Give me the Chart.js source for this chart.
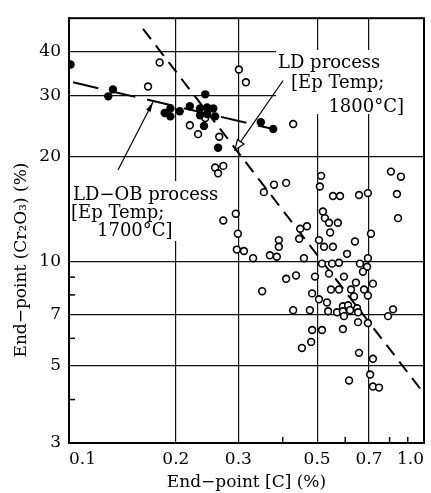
<!DOCTYPE html>
<html>
<head>
<meta charset="utf-8">
<script src="https://cdn.jsdelivr.net/npm/chart.js@4.4.1/dist/chart.umd.min.js"></script>
<style>
  html, body { margin: 0; padding: 0; background: #fff; }
</style>
</head>
<body>
<canvas id="grafico" width="431" height="493"></canvas>
<script>
// LD-OB process (filled circles)
const ldobC  = [0.101, 0.133, 0.129, 0.186, 0.193, 0.193, 0.205, 0.219, 0.234, 0.245, 0.255, 0.234, 0.245, 0.258, 0.240, 0.263, 0.242, 0.347, 0.376];
const ldobCr = [36.8, 31.2, 29.8, 26.7, 27.5, 26.1, 27.0, 27.9, 27.5, 27.7, 27.5, 26.3, 26.5, 26.1, 24.5, 21.2, 30.2, 25.1, 24.0];

// LD process (open circles)
const ldC = [0.180, 0.167, 0.219, 0.231, 0.242, 0.265, 0.301, 0.315, 0.428, 0.258,
             0.272, 0.263, 0.378, 0.409, 0.354, 0.295, 0.272, 0.299, 0.390, 0.390,
             0.448, 0.468, 0.445, 0.297, 0.311, 0.330, 0.368, 0.385, 0.459, 0.436,
             0.409, 0.350, 0.513, 0.509, 0.554, 0.580, 0.656, 0.695, 0.807, 0.861,
             0.839, 0.845, 0.519, 0.526, 0.540, 0.572, 0.544, 0.709, 0.506, 0.523,
             0.554, 0.639, 0.607, 0.516, 0.551, 0.576, 0.660, 0.695, 0.691, 0.493,
             0.540, 0.595, 0.673, 0.643, 0.718, 0.547, 0.576, 0.623, 0.678, 0.484,
             0.635, 0.695, 0.506, 0.533, 0.428, 0.477, 0.537, 0.569, 0.591, 0.611,
             0.648, 0.591, 0.619, 0.652, 0.595, 0.652, 0.695, 0.792, 0.818, 0.484,
             0.516, 0.591, 0.481, 0.453, 0.656, 0.718, 0.705, 0.615, 0.718, 0.747];
const ldCr = [37.3, 31.8, 24.6, 23.2, 25.8, 22.8, 35.6, 32.7, 24.8, 18.6,
              18.8, 17.9, 16.6, 16.8, 15.8, 13.7, 13.1, 12.0, 11.5, 11.0,
              12.4, 12.6, 11.6, 10.8, 10.7, 10.2, 10.4, 10.3, 10.2, 9.1,
              8.9, 8.2, 17.6, 16.4, 15.4, 15.4, 15.5, 15.7, 18.1, 17.5,
              15.6, 13.3, 13.9, 13.3, 12.9, 12.9, 12.1, 12.0, 11.5, 11.0,
              11.0, 11.4, 10.5, 9.84, 9.84, 9.90, 9.84, 10.2, 9.64, 9.03,
              9.21, 9.03, 9.33, 8.68, 8.62, 8.29, 8.29, 8.29, 8.29, 8.08,
              7.92, 7.97, 7.77, 7.61, 7.23, 7.23, 7.18, 7.13, 7.42, 7.47,
              7.32, 7.18, 7.23, 7.13, 6.95, 6.68, 6.64, 6.95, 7.27, 6.34,
              6.34, 6.38, 5.86, 5.63, 5.45, 5.24, 4.72, 4.54, 4.36, 4.33];

// dashed trend lines (end points)
const ldobLineC = [0.1026, 0.3755];
const ldobLineCr = [32.7, 24.0];
const ldLineC = [0.1616, 1.0];
const ldLineCr = [46.6, 4.16];

// arrows from the labels
const ldArrowC = [0.401, 0.2935];
const ldArrowCr = [33.1, 20.9];
const ldobArrowC = [0.1374, 0.1724];
const ldobArrowCr = [18.3, 28.7];

const xTicks = [0.1, 0.2, 0.3, 0.5, 0.7, 1.0];
const yTicks = [3, 5, 7, 10, 20, 30, 40];
const xMinor = [0.4, 0.6, 0.8, 0.9];
const yMinor = [4, 6, 8, 9];

const fonte = '"DejaVu Serif", "Liberation Serif", serif';

function pontos(xs, ys) {
  return xs.map((v, i) => ({ x: v, y: ys[i] }));
}

function seta(ctx, x0, y0, x1, y1, cheia) {
  ctx.beginPath();
  ctx.moveTo(x0, y0);
  ctx.lineTo(x1, y1);
  ctx.stroke();
  const ang = Math.atan2(y1 - y0, x1 - x0);
  const L = 10, W = cheia ? 2.5 : 4;
  const bx = x1 - L * Math.cos(ang), by = y1 - L * Math.sin(ang);
  ctx.beginPath();
  ctx.moveTo(x1, y1);
  ctx.lineTo(bx + W * Math.sin(ang), by - W * Math.cos(ang));
  ctx.lineTo(bx - W * Math.sin(ang), by + W * Math.cos(ang));
  ctx.closePath();
  if (cheia) {
    ctx.fillStyle = '#000';
    ctx.fill();
  } else {
    ctx.fillStyle = '#fff';
    ctx.fill();
    ctx.stroke();
  }
}

const extras = {
  id: 'extras',
  beforeDatasetsDraw(chart) {
    const { ctx, chartArea: a, scales: { x, y } } = chart;
    ctx.save();
    ctx.strokeStyle = '#000';
    ctx.lineWidth = 1.5;
    // minor ticks
    xMinor.forEach(v => {
      const px = x.getPixelForValue(v);
      ctx.beginPath(); ctx.moveTo(px, a.bottom); ctx.lineTo(px, a.bottom - 6); ctx.stroke();
    });
    yMinor.forEach(v => {
      const py = y.getPixelForValue(v);
      ctx.beginPath(); ctx.moveTo(a.left, py); ctx.lineTo(a.left + 6, py); ctx.stroke();
    });
    // label boxes
    ctx.fillStyle = '#fff';
    ctx.fillRect(276, 50, a.right - 277, 64);
    ctx.fillRect(71, 181, 152, 60);
    ctx.fillStyle = '#000';
    ctx.font = '18px ' + fonte;
    ctx.textBaseline = 'alphabetic';
    ctx.textAlign = 'left';
    ctx.fillText('LD process', 278, 68);
    ctx.fillText('[Ep Temp;', 291, 88);
    ctx.textAlign = 'right';
    ctx.fillText('1800°C]', 404, 112);
    ctx.textAlign = 'left';
    ctx.fillText('LD−OB process', 73, 200);
    ctx.fillText('[Ep Temp;', 71, 218);
    ctx.fillText('1700°C]', 97, 236);
    ctx.restore();
  },
  afterDraw(chart) {
    const { ctx, chartArea: a, scales: { x, y } } = chart;
    ctx.save();
    ctx.strokeStyle = '#000';
    ctx.lineWidth = 1.2;
    seta(ctx, x.getPixelForValue(ldArrowC[0]), y.getPixelForValue(ldArrowCr[0]),
      x.getPixelForValue(ldArrowC[1]), y.getPixelForValue(ldArrowCr[1]), false);
    seta(ctx, x.getPixelForValue(ldobArrowC[0]), y.getPixelForValue(ldobArrowCr[0]),
      x.getPixelForValue(ldobArrowC[1]), y.getPixelForValue(ldobArrowCr[1]), true);
    // frame
    ctx.lineWidth = 2;
    ctx.strokeRect(a.left, a.top, a.right - a.left, a.bottom - a.top);
    // y title
    ctx.fillStyle = '#000';
    ctx.font = '17px ' + fonte;
    ctx.translate(22, 260);
    ctx.rotate(-Math.PI / 2);
    ctx.textAlign = 'center';
    ctx.textBaseline = 'middle';
    ctx.fillText('End−point (Cr₂O₃) (%)', 0, 0);
    ctx.restore();
  }
};

const ctx = document.getElementById('grafico').getContext('2d');

new Chart(ctx, {
  type: 'scatter',
  data: {
    datasets: [
      {
        label: 'LD-OB',
        data: pontos(ldobC, ldobCr),
        pointRadius: 4.2,
        pointBackgroundColor: '#000',
        pointBorderColor: '#000',
        pointBorderWidth: 0,
        order: 0
      },
      {
        label: 'LD',
        data: pontos(ldC, ldCr),
        pointRadius: 3.4,
        pointBackgroundColor: '#fff',
        pointBorderColor: '#000',
        pointBorderWidth: 1.6,
        order: 0
      },
      {
        label: 'LD-OB line',
        data: pontos(ldobLineC, ldobLineCr),
        showLine: true,
        borderColor: '#000',
        borderWidth: 2,
        borderDash: [26, 12],
        pointRadius: 0,
        order: 1
      },
      {
        label: 'LD line',
        data: pontos(ldLineC, ldLineCr),
        showLine: true,
        borderColor: '#000',
        borderWidth: 2,
        borderDash: [13, 8],
        pointRadius: 0,
        order: 1
      }
    ]
  },
  options: {
    responsive: false,
    animation: false,
    devicePixelRatio: 1,
    layout: { padding: { left: 0, right: 7, top: 14, bottom: 0 } },
    plugins: {
      legend: { display: false },
      tooltip: { enabled: false }
    },
    scales: {
      x: {
        type: 'logarithmic',
        min: 0.1,
        max: 1.0,
        afterBuildTicks: (s) => { s.ticks = xTicks.map(v => ({ value: v })); },
        afterFit: (s) => { s.height = 50; },
        ticks: {
          callback: (v) => Number(v).toFixed(1),
          font: { family: fonte, size: 17 },
          color: '#000',
          padding: 6,
          align: 'inner',
          maxRotation: 0,
          autoSkip: false
        },
        grid: { color: '#111', lineWidth: 1.2, drawTicks: false },
        border: { color: '#000', width: 2 },
        title: {
          display: true,
          text: 'End−point [C] (%)',
          font: { family: fonte, size: 17 },
          color: '#000',
          padding: { top: 0, bottom: 0 }
        }
      },
      y: {
        type: 'logarithmic',
        min: 3,
        max: 50,
        afterBuildTicks: (s) => { s.ticks = yTicks.map(v => ({ value: v })); },
        afterFit: (s) => { s.width = 69; },
        ticks: {
          callback: (v) => String(v),
          font: { family: fonte, size: 17 },
          color: '#000',
          padding: 8,
          autoSkip: false
        },
        grid: { color: '#111', lineWidth: 1.2, drawTicks: false },
        border: { color: '#000', width: 2 }
      }
    }
  },
  plugins: [extras]
});
</script>
</body>
</html>
